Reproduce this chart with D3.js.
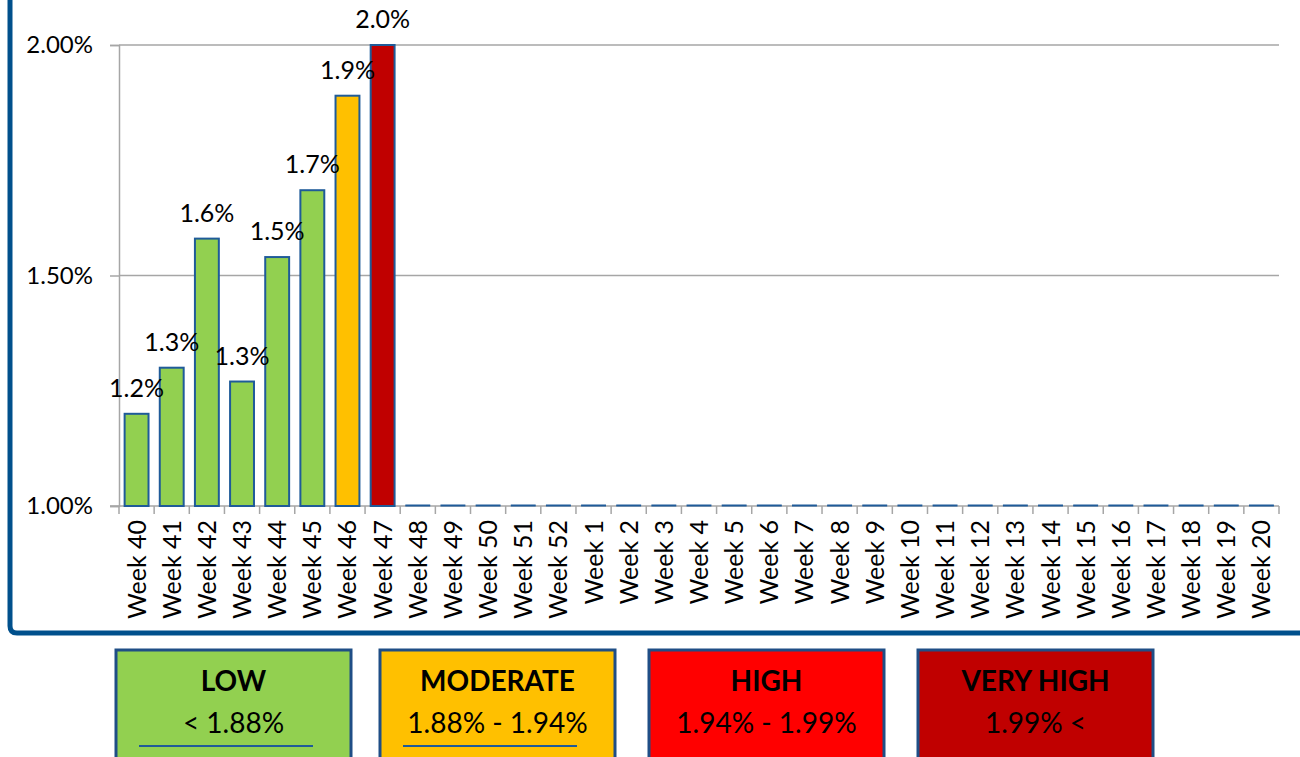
<!DOCTYPE html>
<html>
<head>
<meta charset="utf-8">
<script src="https://cdn.jsdelivr.net/npm/d3@7"></script>
<style>
  body { margin: 0; background: #fff; }
  svg text { font-family: Lato, "Open Sans", sans-serif; }
</style>
</head>
<body>
<svg id="chart" width="1300" height="757"></svg>
<script>
// week labels, season runs week 40 -> week 20
var weeks = ["Week 40","Week 41","Week 42","Week 43","Week 44","Week 45","Week 46","Week 47",
  "Week 48","Week 49","Week 50","Week 51","Week 52","Week 1","Week 2","Week 3","Week 4","Week 5",
  "Week 6","Week 7","Week 8","Week 9","Week 10","Week 11","Week 12","Week 13","Week 14","Week 15",
  "Week 16","Week 17","Week 18","Week 19","Week 20"];

// percent values, null = not reported yet
var pct = [1.20, 1.30, 1.58, 1.27, 1.54, 1.685, 1.89, 2.00];
var pctLabels = ["1.2%","1.3%","1.6%","1.3%","1.5%","1.7%","1.9%","2.0%"];

var yTicks = [1.0, 1.5, 2.0];

var levelNames = ["LOW", "MODERATE", "HIGH", "VERY HIGH"];
var levelRanges = ["< 1.88%", "1.88% - 1.94%", "1.94% - 1.99%", "1.99% <"];
var levelColors = ["#92d050", "#ffc000", "#ff0000", "#c00000"];
var levelCuts = [1.88, 1.94, 1.99];

var frameBlue = "#00508c";
var barStroke = "#1f5b99";

var svg = d3.select("#chart");

var x = d3.scaleBand().domain(weeks).range([119, 1279]).paddingInner(0.32).paddingOuter(0.16);
var y = d3.scaleLinear().domain([1.0, 2.0]).range([506, 45]);
var level = d3.scaleThreshold().domain(levelCuts).range(levelColors);

// outer frame (left + bottom only visible)
svg.append("path")
  .attr("d", "M10,-10 L10,626 Q10,633 17,633 L1310,633")
  .attr("fill", "none").attr("stroke", frameBlue).attr("stroke-width", 5);

// gridlines
svg.append("g").selectAll("line").data(yTicks.slice(1)).enter().append("line")
  .attr("x1", 119).attr("x2", 1279)
  .attr("y1", function(d){ return y(d); }).attr("y2", function(d){ return y(d); })
  .attr("stroke", "#a6a6a6").attr("stroke-width", 1.5);

// y axis
var yAxis = svg.append("g").attr("transform", "translate(119,0)")
  .call(d3.axisLeft(y).tickValues(yTicks).tickSize(9).tickPadding(17)
    .tickFormat(function(d){ return d.toFixed(2) + "%"; }));
yAxis.select(".domain").attr("stroke", "#a6a6a6").attr("stroke-width", 1.5);
yAxis.selectAll(".tick line").attr("stroke", "#a6a6a6").attr("stroke-width", 1.5);
yAxis.selectAll(".tick text").attr("font-size", 24).attr("fill", "#000")
  .attr("font-family", "Lato, sans-serif");

// x axis baseline + ticks at band boundaries
svg.append("line").attr("x1", 110).attr("x2", 1279).attr("y1", 506).attr("y2", 506)
  .attr("stroke", "#a6a6a6").attr("stroke-width", 1.5);
var step = x.step();
var bounds = d3.range(weeks.length + 1).map(function(i){ return 119 + i * step; });
svg.append("g").selectAll("line").data(bounds).enter().append("line")
  .attr("x1", function(d){ return d; }).attr("x2", function(d){ return d; })
  .attr("y1", 506).attr("y2", 514)
  .attr("stroke", "#a6a6a6").attr("stroke-width", 1.5);

// x labels rotated
svg.append("g").selectAll("text").data(weeks).enter().append("text")
  .attr("transform", function(d){ return "translate(" + (x(d) + x.bandwidth()/2 + 9) + ",520) rotate(-90)"; })
  .attr("text-anchor", "end")
  .attr("font-size", 25)
  .text(function(d){ return d; });

// bars
var barData = weeks.map(function(w, i){ return { week: w, v: i < pct.length ? pct[i] : null, lab: pctLabels[i] }; });

svg.append("g").selectAll("rect").data(barData).enter().append("rect")
  .attr("x", function(d){ return x(d.week); })
  .attr("width", x.bandwidth())
  .attr("y", function(d){ return d.v == null ? y(1.0) - 1 : y(d.v); })
  .attr("height", function(d){ return d.v == null ? 1 : y(1.0) - y(d.v); })
  .attr("fill", function(d){ return d.v == null ? barStroke : level(d.v); })
  .attr("stroke", barStroke).attr("stroke-width", function(d){ return d.v == null ? 1 : 2; });

// value labels
svg.append("g").selectAll("text").data(barData.filter(function(d){ return d.v != null; })).enter().append("text")
  .attr("x", function(d){ return x(d.week) + x.bandwidth()/2; })
  .attr("y", function(d){ return y(d.v) - 17; })
  .attr("text-anchor", "middle")
  .attr("font-size", 25)
  .text(function(d){ return d.lab; });

// legend boxes below the frame
var boxX = [116, 380, 649, 918];
var leg = svg.append("g").selectAll("g").data(levelNames).enter().append("g")
  .attr("transform", function(d, i){ return "translate(" + boxX[i] + ",650)"; });
leg.append("rect").attr("width", 235).attr("height", 130)
  .attr("fill", function(d, i){ return levelColors[i]; })
  .attr("stroke", "#1f4e86").attr("stroke-width", 3);
leg.append("text").attr("x", 117.5).attr("y", 41).attr("text-anchor", "middle")
  .attr("font-size", 28).attr("font-weight", "bold")
  .text(function(d){ return d; });
leg.append("text").attr("x", 117.5).attr("y", 83).attr("text-anchor", "middle")
  .attr("font-size", 28)
  .text(function(d, i){ return levelRanges[i]; });
leg.filter(function(d, i){ return i < 2; }).append("line")
  .attr("x1", 23).attr("x2", 197).attr("y1", 96).attr("y2", 96)
  .attr("stroke", "#1f5b99").attr("stroke-width", 2);
</script>
</body>
</html>
